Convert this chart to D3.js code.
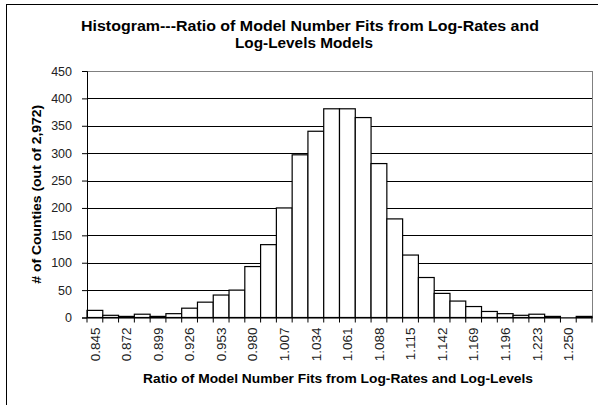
<!DOCTYPE html>
<html><head><meta charset="utf-8">
<script src="https://cdn.jsdelivr.net/npm/d3@7"></script>
<style>
html,body{margin:0;padding:0;background:#fff;}
svg{display:block;}
text{font-family:"Liberation Sans",Arial,sans-serif;}
</style></head>
<body><svg id="c" width="598" height="405"></svg>
<script>
const categories = ["0.845","0.859","0.872","0.886","0.899","0.913","0.926","0.940","0.953","0.967",
  "0.980","0.994","1.007","1.021","1.034","1.048","1.061","1.075","1.088","1.102",
  "1.115","1.129","1.142","1.156","1.169","1.183","1.196","1.210","1.223","1.237",
  "1.250","1.264"];
const counts = [13,4,2,6,2,7,17,28,41,50,93,133,200,297,340,381,381,365,281,180,114,73,44,30,20,11,7,4,6,2,0,2];
const yTicks = [0,50,100,150,200,250,300,350,400,450];
const titleLines = ["Histogram---Ratio of Model Number Fits from Log-Rates and", "Log-Levels Models"];
const xTitle = "Ratio of Model Number Fits from Log-Rates and Log-Levels";
const yTitle = "# of Counties (out of 2,972)";

const svg = d3.select("#c");
const L = 87, R = 592, T = 71, B = 317.5;

// outer chart border (top + left visible)
svg.append("rect").attr("x",6.5).attr("y",4.5).attr("width",620).attr("height",420)
  .attr("fill","none").attr("stroke","#000").attr("stroke-width",1);

const x = d3.scaleBand().domain(categories).range([L,R]).padding(0);
const y = d3.scaleLinear().domain([0,450]).range([B,T]);

// plot area border
svg.append("rect").attr("x",L).attr("y",T).attr("width",R-L).attr("height",B-T)
  .attr("fill","none").attr("stroke","#808080").attr("stroke-width",1).attr("shape-rendering","crispEdges");

// gridlines
svg.append("g").selectAll("line").data(yTicks.filter(d=>d>0 && d<450)).join("line")
  .attr("x1",L).attr("x2",R).attr("y1",d=>Math.round(y(d))+0.5).attr("y2",d=>Math.round(y(d))+0.5)
  .attr("stroke","#000").attr("stroke-width",1);

// bars
svg.append("g").selectAll("rect").data(counts.map((v,i)=>({c:categories[i],v}))).join("rect")
  .attr("x",d=>x(d.c)).attr("width",x.bandwidth())
  .attr("y",d=>y(d.v)).attr("height",d=>B-y(d.v))
  .attr("fill",d=>d.v>0?"#fff":"none").attr("stroke",d=>d.v>0?"#000":"none").attr("stroke-width",1.2);

// y axis
const yAxis = d3.axisLeft(y).tickValues(yTicks).tickSize(5).tickPadding(10).tickFormat(d3.format("d"));
const gy = svg.append("g").attr("transform",`translate(${L},0)`).call(yAxis);
gy.select(".domain").attr("stroke","#000");
gy.selectAll(".tick line").attr("stroke","#000");
gy.selectAll("text").attr("font-size","12.5px").attr("fill","#222");

// x axis
const xAxis = d3.axisBottom(x).tickSize(0).tickFormat((d,i)=> i%2===0 ? d : "");
const gx = svg.append("g").attr("transform",`translate(0,${B})`).call(xAxis);
gx.select(".domain").attr("stroke","#000");
gx.selectAll(".tick text").attr("font-size","13.5px").attr("fill","#222")
  .attr("text-anchor","end").attr("transform","translate(0,10) rotate(-90)")
  .attr("x",0).attr("y",0).attr("dy","0.35em");
// tick marks at bin boundaries
const bounds = categories.map(c=>x(c)).concat([x(categories[categories.length-1])+x.bandwidth()]);
gx.append("g").selectAll("line").data(bounds).join("line")
  .attr("x1",d=>d).attr("x2",d=>d).attr("y1",0).attr("y2",5).attr("stroke","#000");

// titles
svg.append("text").attr("x",308).attr("y",31).attr("text-anchor","middle")
  .attr("font-size","15.5px").attr("font-weight","bold")
  .selectAll("tspan").data(titleLines).join("tspan")
  .attr("x",(d,i)=> i===0?310:304).attr("dy",(d,i)=>i===0?0:17)
  .attr("textLength",(d,i)=> i===0?458:138).attr("lengthAdjust","spacingAndGlyphs").text(d=>d);

svg.append("text").attr("x",338).attr("y",383).attr("text-anchor","middle")
  .attr("font-size","13.5px").attr("font-weight","bold")
  .attr("textLength",390).attr("lengthAdjust","spacingAndGlyphs").text(xTitle);

svg.append("text").attr("transform",`translate(41,${(T+B)/2}) rotate(-90)`).attr("text-anchor","middle")
  .attr("font-size","12.5px").attr("font-weight","bold")
  .attr("textLength",179).attr("lengthAdjust","spacingAndGlyphs").text(yTitle);
</script></body></html>
